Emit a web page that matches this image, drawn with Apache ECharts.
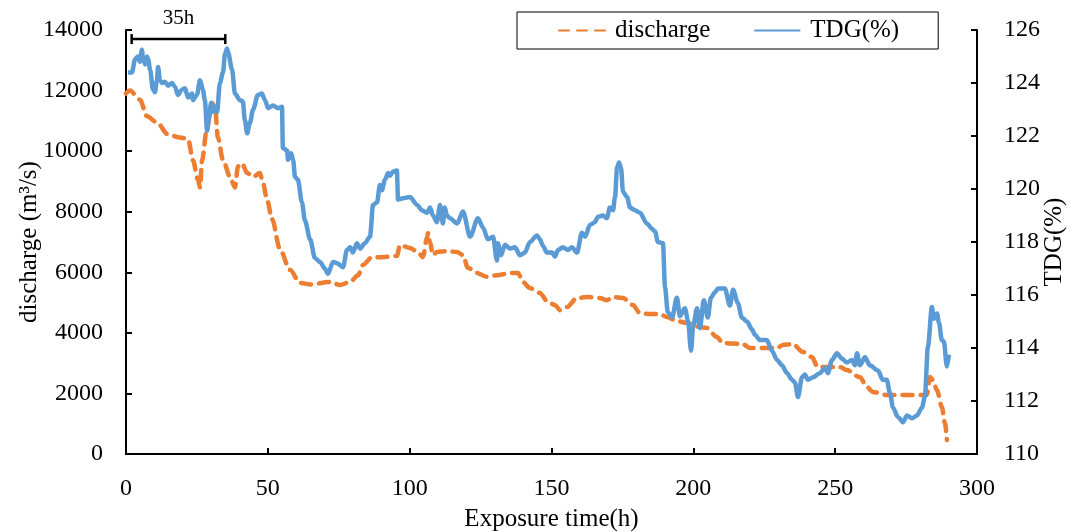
<!DOCTYPE html>
<html>
<head>
<meta charset="utf-8">
<script src="https://cdn.jsdelivr.net/npm/echarts@6/dist/echarts.min.js"></script>
<style>
html,body{margin:0;padding:0;background:#fff;}
#chart{width:1078px;height:532px;}
</style>
</head>
<body>
<div id="chart"></div>
<script>
// Discharge (m3/s) vs exposure time (h)
const dischargeData = [[0,11900],[1.4,12000],[4.9,11700],[7.4,11150],[10.9,10950],[14.8,10550],[19.0,10450],[21.9,10400],[23.6,9700],[25.4,9050],[26.1,8800],[26.8,9700],[28.6,10800],[30.3,11600],[31.4,11450],[32.4,10450],[34.2,9700],[36.7,9150],[38.4,8800],[39.5,9500],[40.9,9600],[42.7,9280],[44.8,9150],[47.2,9280],[48.3,8950],[49.7,8400],[51.5,7750],[54.3,6750],[57.8,6080],[61.3,5650],[64.9,5600],[71.9,5680],[75.4,5580],[79.0,5680],[81.8,5900],[83.5,6240],[86.7,6500],[90.6,6500],[95.5,6540],[96.6,6900],[100.1,6800],[102.9,6670],[104.7,6500],[106.1,7150],[106.5,7300],[107.2,6970],[108.2,6570],[109.6,6670],[113.1,6700],[116.7,6670],[118.8,6570],[120.5,6150],[123.7,5980],[127.2,5850],[130.8,5900],[135.4,5980],[138.2,5980],[139.9,5680],[142.4,5480],[145.9,5320],[148.7,5020],[151.2,4920],[153.0,4750],[155.4,4850],[159.0,5150],[162.5,5180],[167.1,5150],[169.5,5080],[171.7,5180],[175.2,5150],[178.7,4920],[181.2,4650],[184.7,4620],[188.2,4620],[190.7,4520],[194.2,4390],[197.7,4330],[202.3,4190],[204.8,4160],[208.3,3860],[210.4,3660],[217.5,3630],[219.9,3500],[229.5,3500],[231.6,3600],[235.1,3630],[238.6,3370],[241.8,3200],[243.9,2870],[251.7,2870],[254.1,2770],[258.7,2540],[261.2,2210],[263.3,2050],[268.2,1950],[282.3,1950],[283.4,2540],[284.5,2440],[285.9,2110],[287.6,1550],[288.7,1020],[289.4,460]];

// TDG (%) vs exposure time (h)
const tdgData = [[0.7,124.4],[2.1,124.4],[3.2,124.9],[4.2,125.0],[4.9,124.8],[5.6,125.25],[6.0,125.0],[6.7,124.7],[7.4,125.0],[7.8,124.9],[8.5,124.5],[9.5,123.75],[10.2,123.65],[10.9,124.1],[11.3,124.6],[12.0,124.1],[12.7,124.0],[13.7,124.05],[14.8,123.9],[16.2,124.0],[17.3,123.85],[18.3,123.55],[19.7,123.75],[20.8,123.8],[21.9,123.45],[23.3,123.6],[23.6,123.35],[25.0,123.55],[26.1,124.1],[27.1,123.75],[27.8,123.35],[28.6,122.2],[29.3,122.7],[30.0,123.25],[30.3,122.9],[31.0,123.1],[32.1,122.9],[33.1,124.0],[34.2,124.4],[34.9,125.1],[35.6,125.3],[36.0,125.15],[37.4,124.5],[38.4,123.6],[40.2,123.35],[41.2,123.3],[41.9,122.6],[42.7,122.1],[43.7,122.5],[44.8,123.0],[46.5,123.55],[47.9,123.6],[49.0,123.35],[50.1,123.05],[51.8,123.15],[53.6,123.05],[55.0,123.1],[55.3,121.55],[56.8,121.45],[57.1,121.1],[58.2,121.35],[58.9,121.1],[59.6,120.45],[60.6,120.35],[62.0,119.5],[63.1,118.8],[64.9,118.1],[66.6,117.4],[68.4,117.25],[70.1,117.0],[71.2,116.8],[73.0,117.25],[74.4,117.2],[76.5,117.05],[77.9,117.7],[79.0,117.8],[80.0,117.6],[81.4,117.95],[82.5,117.75],[84.2,117.95],[86.0,118.2],[87.1,119.4],[88.5,119.5],[89.5,120.15],[90.2,119.95],[91.3,120.35],[92.4,120.6],[93.1,120.5],[94.1,120.65],[95.5,120.7],[95.9,119.6],[97.6,119.65],[100.1,119.7],[102.6,119.4],[104.3,119.2],[106.1,119.1],[107.2,119.3],[108.2,119.0],[109.6,118.75],[110.7,119.4],[111.7,118.7],[112.4,119.3],[113.1,119.0],[114.2,118.9],[116.7,118.7],[118.8,119.15],[121.3,118.2],[124.1,118.9],[125.8,118.55],[127.6,118.1],[129.4,118.2],[130.8,117.3],[131.1,117.95],[132.2,117.5],[133.6,117.9],[135.4,117.75],[137.1,117.8],[138.9,117.5],[140.6,117.6],[142.4,118.0],[144.9,118.25],[145.9,118.1],[147.0,117.85],[148.4,117.6],[150.2,117.6],[151.2,117.45],[152.3,117.7],[154.0,117.8],[155.8,117.7],[157.2,117.8],[159.0,117.6],[160.7,118.35],[161.8,118.2],[163.6,118.65],[165.3,118.75],[166.4,118.95],[168.1,119.0],[169.5,118.9],[170.6,119.3],[171.7,119.2],[172.4,119.7],[173.1,120.8],[173.8,121.0],[174.5,120.8],[175.2,119.9],[176.6,119.7],[177.7,119.3],[179.4,119.2],[181.2,119.1],[183.6,118.7],[185.4,118.5],[186.5,118.4],[187.5,118.0],[189.3,117.95],[190.0,116.3],[191.0,115.35],[192.5,115.15],[194.2,115.9],[195.3,115.2],[197.0,115.5],[198.1,115.05],[199.2,113.9],[199.9,114.8],[201.3,115.5],[202.3,114.75],[203.7,115.8],[205.1,115.15],[206.2,115.9],[207.6,116.1],[208.7,116.25],[211.1,116.25],[212.9,115.6],[214.0,116.2],[215.7,115.7],[217.1,115.15],[218.9,115.0],[220.7,114.7],[221.7,114.5],[223.5,114.3],[225.9,114.3],[227.7,113.9],[229.5,113.55],[231.2,113.35],[233.0,113.05],[234.8,112.8],[235.8,112.7],[236.9,112.15],[238.3,112.9],[239.3,113.0],[240.4,112.8],[242.2,112.9],[244.6,113.05],[246.4,113.25],[247.4,113.05],[248.9,113.55],[250.6,113.8],[252.4,113.6],[254.1,113.45],[255.9,113.55],[257.0,113.35],[257.7,113.8],[258.7,113.35],[260.5,113.65],[262.2,113.35],[265.1,113.15],[266.8,112.8],[268.2,112.8],[269.3,112.3],[270.4,111.75],[272.1,111.4],[273.9,111.2],[275.3,111.45],[277.1,111.35],[278.8,111.45],[280.6,111.75],[281.6,112.15],[282.7,114.05],[284.1,115.55],[284.8,115.1],[285.9,115.3],[286.6,114.95],[287.6,114.3],[288.3,114.25],[289.4,113.3],[290.1,113.75]];

const seriesNames = ['discharge', 'TDG(%)'];
const xTitle = 'Exposure time(h)';
const yLeftTitle = 'discharge (m³/s)';
const yRightTitle = 'TDG(%)';
const annotation = {label: '35h', from: 2, to: 35, level: 13700};

const FONT = '"Liberation Serif", "Times New Roman", serif';
const chart = echarts.init(document.getElementById('chart'), null, {renderer: 'canvas'});

const plainNum = v => String(v);
const axisCommon = {
  axisLine: {show: true, onZero: false, lineStyle: {color: '#000', width: 2}},
  axisTick: {show: true, inside: true, length: 6, lineStyle: {color: '#000', width: 2}},
  splitLine: {show: false},
  nameTextStyle: {color: '#000', fontFamily: FONT, fontSize: 25},
  nameLocation: 'middle',
  nameMoveOverlap: false
};
const label = m => ({color: '#000', fontFamily: FONT, fontSize: 24, margin: m, formatter: plainNum});

const option = {
  animation: false,
  backgroundColor: '#fff',
  grid: {left: 126, right: 101, top: 30, bottom: 78, containLabel: false, outerBoundsMode: 'none'},
  legend: {
    left: 517, top: 12,
    padding: [6, 39, 6, 41],
    borderColor: '#000', borderWidth: 1,
    itemWidth: 46, itemHeight: 14, itemGap: 43,
    itemStyle: {opacity: 0},
    textStyle: {color: '#000', fontFamily: FONT, fontSize: 25, padding: [0, 0, 0, 5]},
    data: seriesNames
  },
  xAxis: Object.assign({}, axisCommon, {
    type: 'value', min: 0, max: 300, interval: 50,
    name: xTitle, nameGap: 53,
    axisLabel: label(23)
  }),
  yAxis: [
    Object.assign({}, axisCommon, {
      type: 'value', min: 0, max: 14000, interval: 2000, position: 'left',
      name: yLeftTitle, nameGap: 84, nameRotate: 90,
      axisLabel: label(23)
    }),
    Object.assign({}, axisCommon, {
      type: 'value', min: 110, max: 126, interval: 2, position: 'right',
      name: yRightTitle, nameGap: 65, nameRotate: 90,
      axisLabel: label(27)
    })
  ],
  series: [
    {
      name: seriesNames[0], type: 'line', yAxisIndex: 0,
      data: dischargeData, symbol: 'none', smooth: 0.3, smoothMonotone: 'x',
      lineStyle: {color: '#ED7D31', width: 4.5, type: [10, 8], cap: 'round'},
      itemStyle: {color: '#ED7D31'}, z: 2
    },
    {
      name: seriesNames[1], type: 'line', yAxisIndex: 1,
      data: tdgData, symbol: 'none', smooth: 0.3, smoothMonotone: 'x',
      lineStyle: {color: '#5B9BD5', width: 4.5, join: 'round'},
      itemStyle: {color: '#5B9BD5'}, z: 3
    }
  ]
};
chart.setOption(option);

// annotation bracket drawn from data coordinates
const p1 = chart.convertToPixel({xAxisIndex: 0, yAxisIndex: 0}, [annotation.from, annotation.level]);
const p2 = chart.convertToPixel({xAxisIndex: 0, yAxisIndex: 0}, [annotation.to, annotation.level]);
const lineStyle = {stroke: '#000', lineWidth: 2.5};
chart.setOption({
  graphic: [
    {type: 'line', shape: {x1: p1[0], y1: p1[1], x2: p2[0], y2: p2[1]}, style: lineStyle, z: 10},
    {type: 'line', shape: {x1: p1[0], y1: p1[1] - 5, x2: p1[0], y2: p1[1] + 5}, style: lineStyle, z: 10},
    {type: 'line', shape: {x1: p2[0], y1: p2[1] - 5, x2: p2[0], y2: p2[1] + 5}, style: lineStyle, z: 10},
    {type: 'text', x: (p1[0] + p2[0]) / 2, y: p1[1] - 10, z: 10,
      style: {text: annotation.label, fill: '#000', font: '21px ' + FONT, align: 'center', verticalAlign: 'bottom'}}
  ]
});
</script>
</body>
</html>
